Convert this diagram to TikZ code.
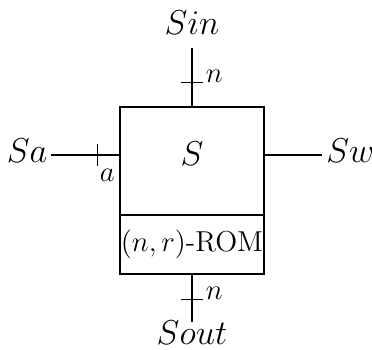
\documentclass[tikz,border=0pt]{standalone}
\usetikzlibrary{positioning}
\tikzset{
  every picture/.style={line width=0.55pt},
  blk/.style={draw, minimum width=2.53cm, inner sep=0pt, outer sep=0pt, font=\Large},
  sig/.style={font=\fontsize{16}{19}\selectfont, inner sep=1pt},
  buslbl/.style={font=\Large, inner sep=1pt},
  htick/.style={draw, minimum width=0.38cm, minimum height=0pt, inner sep=0pt},
  vtick/.style={draw, minimum height=0.38cm, minimum width=0pt, inner sep=0pt},
}
\begin{document}
\begin{tikzpicture}
  \useasboundingbox (0,0) rectangle (6.537,-6.133);
  % the block and its rom
  \node[blk, minimum height=1.898cm, text depth=7pt, font=\fontsize{16}{19}\selectfont] (s) at (3.374,-2.829) {$S$};
  \node[blk, minimum height=1.037cm, below=0pt of s] (rom) {$(n,r)$-ROM};
  % free ends
  \coordinate (in) at (3.374,-0.843);
  \coordinate (out) at (3.374,-5.659);
  \coordinate (aa) at (0.896,-2.724);
  \coordinate (ww) at (5.659,-2.724);
  % signals
  \draw (in) -- node[htick, pos=0.59] (t1) {} (s.north);
  \draw (rom.south) -- node[htick, pos=0.54] (t2) {} (out);
  \draw (aa) -- node[vtick, pos=0.67] (t3) {} (s.west |- aa);
  \draw (s.east |- ww) -- (ww);
  \node[buslbl, anchor=base west] (n1) at (t1.east) {$n$};
  \node[buslbl, anchor=base west] (n2) at (t2.east) {$n$};
  \node[buslbl, anchor=north west] (la) at (t3.south) {$a$};
  \node[sig, anchor=base] (sin) at (3.374,-0.615) {$Sin$};
  \node[sig, anchor=base] (sout) at (3.374,-6.055) {$Sout$};
  \node[sig, anchor=base east] (sa) at (0.879,-2.847) {$Sa$};
  \node[sig, anchor=base west] (sw) at (5.69,-2.847) {$Sw$};
\end{tikzpicture}
\end{document}
